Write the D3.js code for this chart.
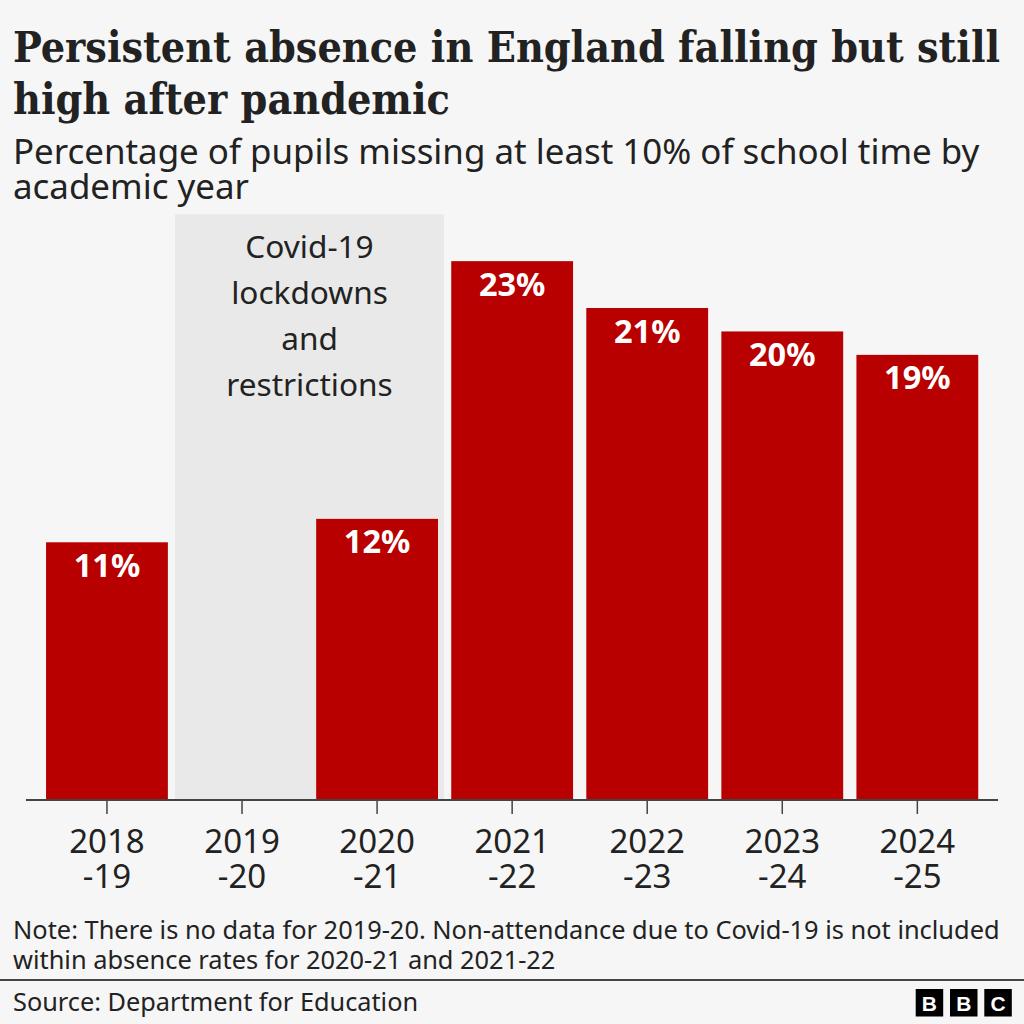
<!DOCTYPE html>
<html><head><meta charset="utf-8">
<script src="https://cdn.jsdelivr.net/npm/d3@7/dist/d3.min.js"></script>
<style>html,body{margin:0;padding:0;background:#f6f6f6}svg{display:block}</style>
</head><body><svg id="c" width="1024" height="1024"></svg>
<script>
const years = ["2018-19","2019-20","2020-21","2021-22","2022-23","2023-24","2024-25"];
const values = [11,null,12,23,21,20,19];
const shadeLabel = ["Covid-19","lockdowns","and","restrictions"];
const titleLines = ["Persistent absence in England falling but still","high after pandemic"];
const subtitleLines = ["Percentage of pupils missing at least 10% of school time by","academic year"];
const noteLines = ["Note: There is no data for 2019-20. Non-attendance due to Covid-19 is not included","within absence rates for 2020-21 and 2021-22"];
const source = "Source: Department for Education";
const sans = "'Noto Sans','Open Sans',sans-serif", serif = "'DejaVu Serif Condensed','DejaVu Serif',serif";
const svg = d3.select("#c");
svg.append("rect").attr("width",1024).attr("height",1024).attr("fill","#f6f6f6");
const x = d3.scaleBand().domain(years).range([39.3,985]).paddingInner(0.098).paddingOuter(0.05);
const y = d3.scaleLinear().domain([0,25]).range([800,214.3]);
svg.selectAll(".t").data(titleLines).join("text").attr("x",13).attr("y",(d,i)=>62+i*52)
  .attr("font-family",serif).attr("font-weight",700).attr("font-stretch","condensed").attr("font-size",42.65).attr("fill","#222").text(d=>d);
svg.selectAll(".s").data(subtitleLines).join("text").attr("x",13).attr("y",(d,i)=>164+i*35)
  .attr("font-family",sans).attr("font-size",34.9).attr("fill","#222").text(d=>d);
svg.append("rect").attr("x",175).attr("width",269).attr("y",y(25)).attr("height",y(0)-y(25)).attr("fill","#e9e9e9");
svg.selectAll(".l").data(shadeLabel).join("text").attr("x",309.5).attr("y",(d,i)=>258+i*46)
  .attr("text-anchor","middle").attr("font-family",sans).attr("font-size",31.6).attr("fill","#222").text(d=>d);
const data = years.map((k,i)=>({k,v:values[i]})).filter(d=>d.v!=null);
svg.selectAll(".b").data(data).join("rect").attr("x",d=>x(d.k)).attr("width",x.bandwidth())
  .attr("y",d=>y(d.v)).attr("height",d=>y(0)-y(d.v)).attr("fill","#b80000");
svg.selectAll(".v").data(data).join("text").attr("x",d=>x(d.k)+x.bandwidth()/2).attr("y",d=>y(d.v)+34.5)
  .attr("text-anchor","middle").attr("font-family",sans).attr("font-weight",700).attr("font-size",32.5).attr("fill","#fff").text(d=>d.v+"%");
const ax = svg.append("g").attr("transform","translate(0,800)")
  .call(d3.axisBottom(x).tickSize(14).tickFormat(""));
ax.select(".domain").remove();
ax.selectAll("line").attr("stroke","#444").attr("stroke-width",1.5);
svg.append("line").attr("x1",26).attr("x2",998).attr("y1",800).attr("y2",800).attr("stroke","#444").attr("stroke-width",2);
years.forEach(k=>{
  const [a,b]=k.split("-"), cx=x(k)+x.bandwidth()/2;
  [a,"-"+b].forEach((t,i)=>svg.append("text").attr("x",cx).attr("y",853+i*35).attr("text-anchor","middle")
    .attr("font-family",sans).attr("font-size",33).attr("fill","#222").text(t));
});
svg.selectAll(".n").data(noteLines).join("text").attr("x",13).attr("y",(d,i)=>939+i*30)
  .attr("font-family",sans).attr("font-size",25.4).attr("fill","#222").text(d=>d);
svg.append("line").attr("x1",0).attr("x2",1024).attr("y1",980).attr("y2",980).attr("stroke","#444").attr("stroke-width",2);
svg.append("text").attr("x",13).attr("y",1011).attr("font-family",sans).attr("font-size",25.3).attr("fill","#222").text(source);
["B","B","C"].forEach((t,i)=>{
  const lx=915.7+i*34.3;
  svg.append("rect").attr("x",lx).attr("y",989).attr("width",27.5).attr("height",27.5).attr("fill","#000");
  svg.append("text").attr("x",lx+13.75).attr("y",1010.5).attr("text-anchor","middle").attr("font-family","'Liberation Sans',sans-serif").attr("font-weight",700).attr("font-size",21).attr("fill","#fff").text(t);
});
</script></body></html>
